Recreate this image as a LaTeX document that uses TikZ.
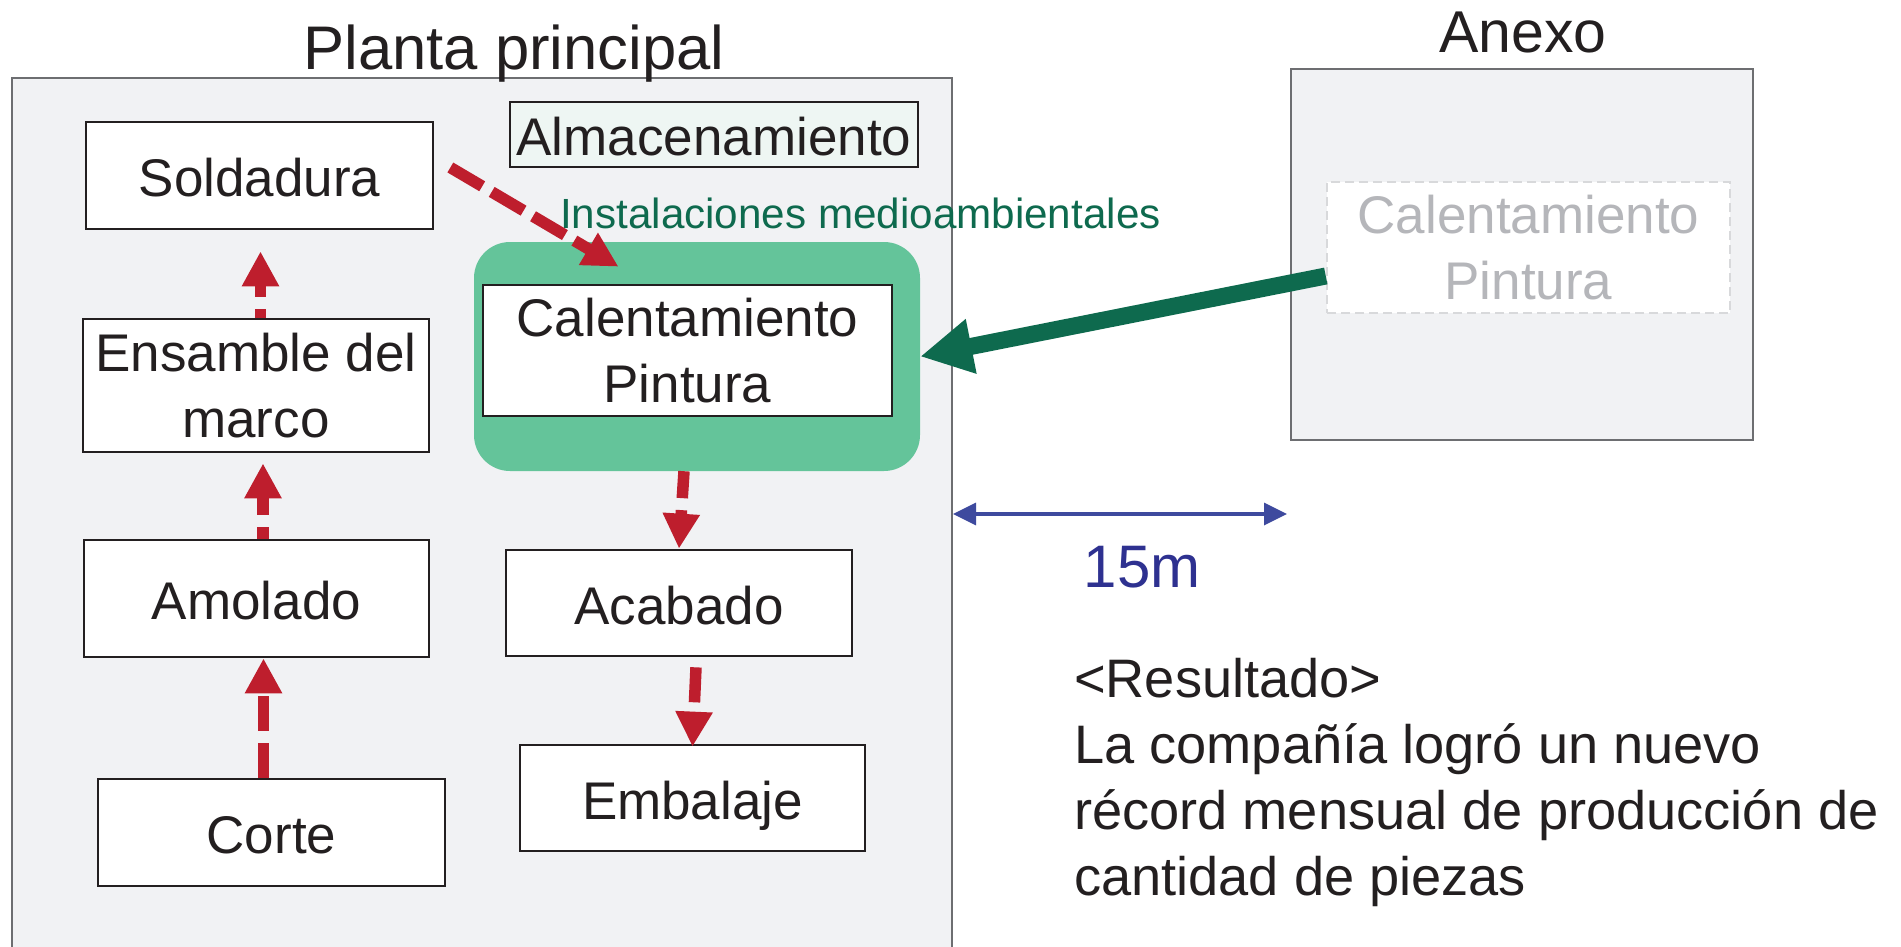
\documentclass[tikz,border=0pt]{standalone}
\usepackage{fontspec}
\setmainfont{Liberation Sans}
\usetikzlibrary{arrows.meta,calc}
\definecolor{bggray}{HTML}{F1F2F4}
\definecolor{regionline}{HTML}{6D6E71}
\definecolor{boxline}{HTML}{231F20}
\definecolor{arrred}{HTML}{BE1E2D}
\definecolor{areagreen}{HTML}{64C49A}
\definecolor{darkgreen}{HTML}{0E6A4E}
\definecolor{almfill}{HTML}{EEF6F3}
\definecolor{dimblue}{HTML}{3E4A9E}
\definecolor{textblue}{HTML}{2E3190}
\definecolor{ghosttext}{HTML}{B5B6BA}
\definecolor{ghostline}{HTML}{D8D9DB}
\begin{document}
\begin{tikzpicture}[x=1pt,y=-1pt,
  region/.style={draw=regionline, line width=1.5pt, fill=bggray, inner sep=0pt},
  stepbox/.style={draw=boxline, line width=2.7pt, fill=white, inner sep=0pt,
    font=\fontsize{53}{66}\selectfont, align=center, text=boxline},
  oneline/.style={text height=42pt, text depth=0pt},
  redarrow/.style={draw=arrred, line width=11.5pt, dash pattern=on 35pt off 12pt,
    -{Triangle[length=35pt,width=35pt]}},
  greenarrow/.style={draw=darkgreen, line width=17pt, -{Triangle[length=52pt,width=52pt]}},
  bluearrow/.style={draw=dimblue, line width=3.5pt,
    {Triangle[length=23pt,width=22pt]}-{Triangle[length=23pt,width=22pt]}},
  titletext/.style={font=\fontsize{61.6}{70}\selectfont, text=boxline, inner sep=0pt}
]
\useasboundingbox (0,0) rectangle (1901,947);
\fill[white] (0,0) rectangle (1901,947);

% regions
\node[region, minimum width=940, minimum height=882] (main) at (482,519) {};
\node[region, minimum width=462, minimum height=371] (anexo) at (1522,254.5) {};
\node[titletext, anchor=base] (titleP) at (514,70) {Planta principal};
\node[titletext, font=\fontsize{59}{70}\selectfont, anchor=base] (titleA) at (1523,53) {Anexo};

% environmental area
\node[fill=areagreen, rounded corners=36pt, minimum width=446, minimum height=229, inner sep=0pt] (green) at (697,356.5) {};
\node[font=\fontsize{42.2}{50}\selectfont, text=darkgreen, anchor=base west, inner sep=0pt] (envlabel) at (560,228) {Instalaciones medioambientales};

% process boxes
\node[stepbox, oneline, minimum width=347, minimum height=107] (sold) at (259.5,175.5) {Soldadura};
\node[stepbox, minimum width=346, minimum height=133] (ens) at (256,385.5) {Ensamble del\\marco};
\node[stepbox, oneline, minimum width=345, minimum height=117] (amo) at (256.5,598.5) {Amolado};
\node[stepbox, oneline, minimum width=347, minimum height=107] (cor) at (271.5,832.5) {Corte};
\node[stepbox, oneline, fill=almfill, minimum width=408, minimum height=65] (alm) at (714,134.5) {Almacenamiento};
\node[stepbox, minimum width=409, minimum height=131] (cal) at (687.5,350.5) {Calentamiento\\Pintura};
\node[stepbox, oneline, minimum width=346, minimum height=106] (aca) at (679,603) {Acabado};
\node[stepbox, oneline, minimum width=345, minimum height=106] (emb) at (692.5,798) {Embalaje};

% ghost box in annex
\node[draw=ghostline, line width=2.5pt, dash pattern=on 9pt off 5pt, fill=white,
  minimum width=403, minimum height=131, inner sep=0pt, align=center,
  font=\fontsize{53}{66}\selectfont, text=ghosttext] (inner) at (1528.5,247.5) {Calentamiento\\Pintura};

% red flow arrows
\draw[redarrow] ($(cor.north)+(-8,0)$) -- ($(amo.south)+(7,0)$);
\draw[redarrow, dash phase=23pt] ($(amo.north)+(6.5,0)$) -- ($(ens.south)+(7,10)$);
\draw[redarrow, dash phase=26pt] ($(ens.north)+(4.5,0)$) -- ($(sold.south)+(1,21)$);
\draw[redarrow, dash pattern=on 37pt off 11pt] ($(sold.east)+(16,-8)$) -- ($(cal.north)+(-69,-17)$);
\draw[redarrow, dash phase=8pt] ($(green.south)+(-13,0)$) -- (aca.north);
\draw[redarrow] ($(aca.south)+(17,10)$) -- ($(emb.north)+(0,3)$);

% relocation arrow
\draw[greenarrow] ($(inner.west)+(0,28.5)$) -- (green.east);

% distance
\coordinate (dimL) at (953,514);
\coordinate (dimR) at (1287,514);
\draw[bluearrow] (dimL) -- (dimR);
\node[font=\fontsize{60}{70}\selectfont, text=textblue, anchor=base, inner sep=0pt] (dist) at (1142,587) {15m};

% result (base anchor = last line's baseline)
\node[font=\fontsize{54.2}{66}\selectfont, text=boxline, align=left, anchor=base west, inner sep=0pt] (res) at (1074,895)
  {<Resultado>\\La compañía logró un nuevo\\récord mensual de producción de\\cantidad de piezas};
\end{tikzpicture}
\end{document}
